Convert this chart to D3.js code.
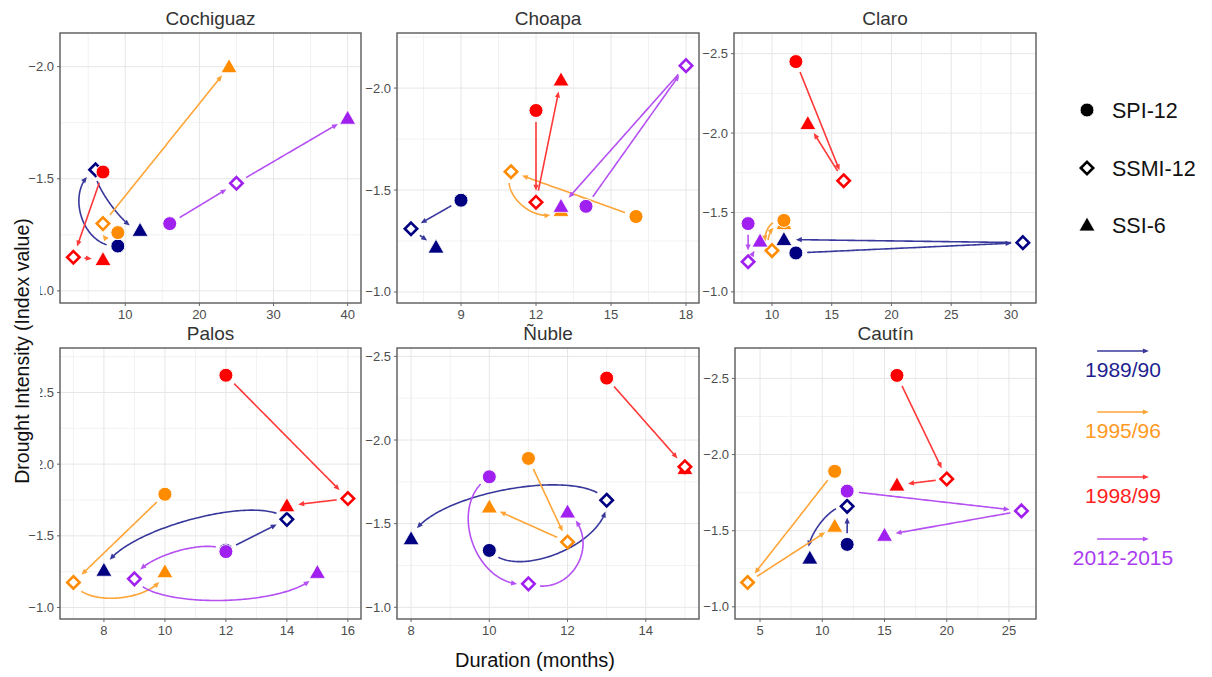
<!DOCTYPE html>
<html lang="en">
<head>
<meta charset="UTF-8">
<title>Drought propagation</title>
<script src="https://d3js.org/d3.v7.min.js"></script>
<style>
  body { margin: 0; background: #fff; font-family: Arial, "Liberation Sans", sans-serif; }
  .grid line { stroke: #e6e6e6; stroke-width: 1; }
  .grid line.minor { stroke: #f2f2f2; }
  .tick-label { font-size: 13px; fill: #4d4d4d; }
  .tick-mark { stroke: #666; stroke-width: 1; }
  .panel-title { font-size: 19px; fill: #333; text-anchor: middle; }
</style>
</head>
<body>
<svg id="chart" width="1212" height="677"></svg>
<script>
// ---- data ----
const basins = ["Cochiguaz", "Choapa", "Claro", "Palos", "Ñuble", "Cautín"];
const periods = ["1989/90", "1995/96", "1998/99", "2012-2015"];
const indices = ["SPI-12", "SSMI-12", "SSI-6"];
const periodColors = ["#000080", "#ff8c00", "#ff0000", "#a020f0"];

// duration[basin][period] = [SPI-12, SSMI-12, SSI-6]  (months)
const duration = [
  [[9, 6, 12], [9, 7, 24], [7, 3, 7], [16, 25, 40]],
  [[9, 7, 8], [16, 11, 13], [12, 12, 13], [14, 18, 13]],
  [[12, 31, 11], [11, 10, 11], [12, 16, 13], [8, 8, 9]],
  [[12, 14, 8], [10, 7, 10], [12, 16, 14], [12, 9, 15]],
  [[10, 13, 8], [11, 12, 10], [13, 15, 15], [10, 11, 12]],
  [[12, 12, 9], [11, 4, 11], [16, 20, 16], [12, 26, 15]]
];
// intensity[basin][period] = [SPI-12, SSMI-12, SSI-6]  (index value)
const intensity = [
  [[-1.20, -1.54, -1.27], [-1.26, -1.30, -2.00], [-1.53, -1.15, -1.14], [-1.30, -1.48, -1.77]],
  [[-1.45, -1.31, -1.22], [-1.37, -1.59, -1.40], [-1.89, -1.44, -2.04], [-1.42, -2.11, -1.42]],
  [[-1.245, -1.31, -1.33], [-1.45, -1.26, -1.43], [-2.45, -1.70, -2.06], [-1.43, -1.19, -1.32]],
  [[-1.40, -1.615, -1.26], [-1.79, -1.175, -1.25], [-2.62, -1.76, -1.71], [-1.39, -1.20, -1.245]],
  [[-1.34, -1.64, -1.41], [-1.89, -1.39, -1.60], [-2.37, -1.84, -1.83], [-1.78, -1.14, -1.57]],
  [[-1.41, -1.66, -1.32], [-1.89, -1.16, -1.53], [-2.52, -1.84, -1.80], [-1.76, -1.63, -1.47]]
];
// axis ranges per basin
const xDomains = [[1.2, 41.8], [6.44, 18.52], [6.82, 32.1], [6.56, 16.43], [7.64, 15.36], [2.99, 27.17]];
const yDomains = [[-0.946, -2.15], [-0.946, -2.27], [-0.93, -2.63], [-0.92, -2.81], [-0.93, -2.55], [-0.92, -2.70]];
const xTicks = [[10, 20, 30, 40], [9, 12, 15, 18], [10, 15, 20, 25, 30], [8, 10, 12, 14, 16], [8, 10, 12, 14], [5, 10, 15, 20, 25]];
const yTicks = [[-2.0, -1.5, -1.0], [-2.0, -1.5, -1.0], [-2.5, -2.0, -1.5, -1.0], [-2.5, -2.0, -1.5, -1.0], [-2.5, -2.0, -1.5, -1.0], [-2.5, -2.0, -1.5, -1.0]];

// arrow curvature (style) per basin/period: [SPI->SSMI, SSMI->SSI]
const bends = [
  [[-0.45, 0.15], [-0.8, 0], [0, 0], [0, 0]],
  [[0, 0], [0, 0.42], [0, 0], [0, 0]],
  [[0, 0], [0.5, -0.4], [0, 0], [0, 0]],
  [[0, 0.18], [0, 0.3], [0, 0], [0.2, 0.18]],
  [[0.31, 0.2], [0, 0], [0, 0], [0.45, 0.55]],
  [[0, 0.25], [0, 0], [0, 0], [0, 0]]
];

// ---- layout ----
const panelBoxes = [
  {x0: 60, x1: 361, y0: 33, y1: 303},
  {x0: 397, x1: 699, y0: 33, y1: 303},
  {x0: 734, x1: 1036, y0: 33, y1: 303},
  {x0: 60, x1: 361, y0: 348, y1: 619},
  {x0: 397, x1: 699, y0: 348, y1: 619},
  {x0: 735, x1: 1036, y0: 348, y1: 619}
];

const svg = d3.select("#chart");
const fmt = d3.format(".1f");

function lighten(c, a) { return d3.interpolateRgb(c, "#ffffff")(a === undefined ? 0.22 : a); }

function drawArrow(g, p0, p1, bend, color, gap0, gap1) {
  const dx = p1[0] - p0[0], dy = p1[1] - p0[1];
  const len = Math.hypot(dx, dy);
  if (len < 3) return;
  const nx = -dy / len, ny = dx / len;
  const h = bend * len;
  const c1 = [p0[0] + dx * 0.1 + nx * h, p0[1] + dy * 0.1 + ny * h];
  const c2 = [p0[0] + dx * 0.9 + nx * h, p0[1] + dy * 0.9 + ny * h];
  const pts = [];
  for (let i = 0; i <= 120; i++) {
    const t = i / 120, u = 1 - t;
    const x = u*u*u*p0[0] + 3*u*u*t*c1[0] + 3*u*t*t*c2[0] + t*t*t*p1[0];
    const y = u*u*u*p0[1] + 3*u*u*t*c1[1] + 3*u*t*t*c2[1] + t*t*t*p1[1];
    if (Math.hypot(x - p0[0], y - p0[1]) > gap0 && Math.hypot(x - p1[0], y - p1[1]) > gap1) pts.push([x, y]);
  }
  if (pts.length < 2) return;
  const col = lighten(color);
  const tip = pts[pts.length - 1];
  const prev = pts[Math.max(0, pts.length - 4)];
  const ang = Math.atan2(tip[1] - prev[1], tip[0] - prev[0]);
  const hl = 6, hw = 2.6;
  const base = [tip[0] - hl * Math.cos(ang), tip[1] - hl * Math.sin(ang)];
  // trim line so it ends inside the head
  const linePts = pts.filter(p => Math.hypot(p[0] - tip[0], p[1] - tip[1]) > hl * 0.6);
  linePts.push([tip[0] - hl * 0.6 * Math.cos(ang), tip[1] - hl * 0.6 * Math.sin(ang)]);
  g.append("path")
    .attr("d", d3.line()(linePts))
    .attr("fill", "none")
    .attr("stroke", col)
    .attr("stroke-width", 1.6);
  g.append("path")
    .attr("d", d3.line()([
      tip,
      [base[0] - hw * Math.sin(ang), base[1] + hw * Math.cos(ang)],
      [base[0] + hw * Math.sin(ang), base[1] - hw * Math.cos(ang)]
    ]) + "Z")
    .attr("fill", col);
}

function drawMarker(g, kind, x, y, color) {
  if (kind === 0) {
    g.append("circle").attr("cx", x).attr("cy", y).attr("r", 7)
      .attr("fill", color).attr("stroke", "#fff").attr("stroke-width", 1);
  } else if (kind === 1) {
    const s = 6.2;
    g.append("path")
      .attr("d", `M${x},${y - s}L${x + s},${y}L${x},${y + s}L${x - s},${y}Z`)
      .attr("fill", "#fff").attr("stroke", color).attr("stroke-width", 2.6);
  } else {
    const s = 8;
    g.append("path")
      .attr("d", `M${x},${y - s}L${x + s},${y + s * 0.75}L${x - s},${y + s * 0.75}Z`)
      .attr("fill", color).attr("stroke", "#fff").attr("stroke-width", 0.8);
  }
}

function midTicks(ticks, domain) {
  const step = ticks[1] - ticks[0];
  const lo = Math.min(domain[0], domain[1]), hi = Math.max(domain[0], domain[1]);
  const out = [];
  for (let v = ticks[0] - step * 1.5; v <= ticks[ticks.length - 1] + step * 1.5; v += step) {
    if (v > lo && v < hi) out.push(v);
  }
  return out;
}

basins.forEach(function(name, b) {
  const box = panelBoxes[b];
  const x = d3.scaleLinear().domain(xDomains[b]).range([box.x0, box.x1]);
  const y = d3.scaleLinear().domain(yDomains[b]).range([box.y1, box.y0]);
  const g = svg.append("g");

  // grid
  const grid = g.append("g").attr("class", "grid");
  grid.selectAll("line.minor.vx").data(midTicks(xTicks[b], xDomains[b])).enter().append("line")
    .attr("class", "minor").attr("x1", d => x(d)).attr("x2", d => x(d)).attr("y1", box.y0).attr("y2", box.y1);
  grid.selectAll("line.minor.hy").data(midTicks(yTicks[b], yDomains[b])).enter().append("line")
    .attr("class", "minor").attr("y1", d => y(d)).attr("y2", d => y(d)).attr("x1", box.x0).attr("x2", box.x1);
  grid.selectAll("line.major.vx").data(xTicks[b]).enter().append("line")
    .attr("x1", d => x(d)).attr("x2", d => x(d)).attr("y1", box.y0).attr("y2", box.y1);
  grid.selectAll("line.major.hy").data(yTicks[b]).enter().append("line")
    .attr("y1", d => y(d)).attr("y2", d => y(d)).attr("x1", box.x0).attr("x2", box.x1);

  // tick marks + labels
  g.selectAll("line.xtm").data(xTicks[b]).enter().append("line")
    .attr("class", "tick-mark").attr("x1", d => x(d)).attr("x2", d => x(d))
    .attr("y1", box.y1).attr("y2", box.y1 + 3);
  g.selectAll("line.ytm").data(yTicks[b]).enter().append("line")
    .attr("class", "tick-mark").attr("y1", d => y(d)).attr("y2", d => y(d))
    .attr("x1", box.x0 - 3).attr("x2", box.x0);
  g.selectAll("text.xt").data(xTicks[b]).enter().append("text")
    .attr("class", "tick-label").attr("x", d => x(d)).attr("y", box.y1 + 16)
    .attr("text-anchor", "middle").text(d => d);
  g.selectAll("text.yt").data(yTicks[b]).enter().append("text")
    .attr("class", "tick-label").attr("x", box.x0 - 6).attr("y", d => y(d) + 4.5)
    .attr("text-anchor", "end").text(d => fmt(d));

  // title
  g.append("text").attr("class", "panel-title")
    .attr("x", (box.x0 + box.x1) / 2).attr("y", box.y0 - 8).text(name);

  // arrows
  const ag = g.append("g");
  periods.forEach(function(p, k) {
    const pts = indices.map((_, i) => [x(duration[b][k][i]), y(intensity[b][k][i])]);
    drawArrow(ag, pts[0], pts[1], bends[b][k][0], periodColors[k], 11, 11);
    drawArrow(ag, pts[1], pts[2], bends[b][k][1], periodColors[k], 11, 11);
  });

  // markers
  const mg = g.append("g");
  periods.forEach(function(p, k) {
    [2, 1, 0].forEach(function(i) {
      drawMarker(mg, i, x(duration[b][k][i]), y(intensity[b][k][i]), periodColors[k]);
    });
  });

  // frame
  g.append("rect").attr("x", box.x0).attr("y", box.y0)
    .attr("width", box.x1 - box.x0).attr("height", box.y1 - box.y0)
    .attr("fill", "none").attr("stroke", "#5a5a5a").attr("stroke-width", 1.4);
});

// axis titles
svg.append("rect").attr("x", 6).attr("y", 212).attr("width", 34).attr("height", 282).attr("fill", "#fff");
svg.append("text")
  .attr("transform", "translate(29,351) rotate(-90)")
  .attr("text-anchor", "middle").attr("font-size", 19.5).attr("fill", "#111")
  .text("Drought Intensity (Index value)");
svg.append("text")
  .attr("x", 535).attr("y", 667)
  .attr("text-anchor", "middle").attr("font-size", 20).attr("fill", "#111")
  .text("Duration (months)");

// legend: indices
const legY = [110, 168, 225];
indices.forEach(function(name, i) {
  drawMarker(svg, i, 1087, legY[i], "#000");
  svg.append("text").attr("x", 1112).attr("y", legY[i] + 7.5)
    .attr("font-size", 21.5).attr("fill", "#111").text(name);
});

// legend: periods
const legArrowY = [351, 412, 477, 539];
periods.forEach(function(name, k) {
  drawArrow(svg, [1097, legArrowY[k]], [1149, legArrowY[k]], 0, periodColors[k], 0, 0);
  svg.append("text").attr("x", 1123).attr("y", legArrowY[k] + 26)
    .attr("text-anchor", "middle").attr("font-size", 21)
    .attr("fill", lighten(periodColors[k], 0.12)).text(name);
});
</script>
</body>
</html>
